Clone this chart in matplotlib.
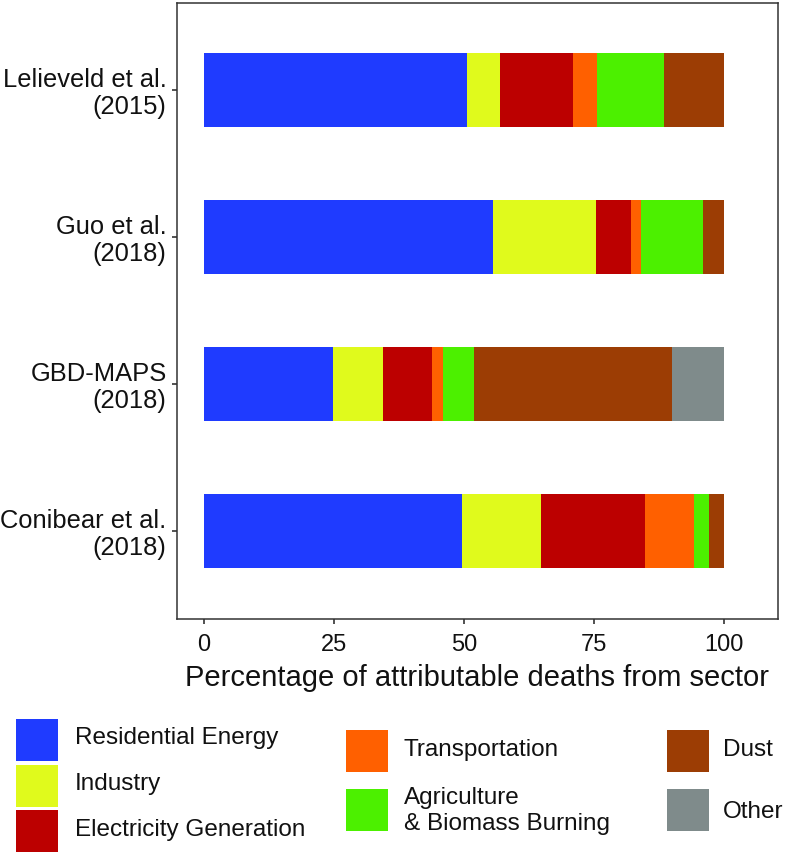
import numpy as np
import matplotlib
matplotlib.use('Agg')
import matplotlib.pyplot as plt
from matplotlib.patches import Rectangle

plt.rcParams['font.family'] = ['Liberation Sans', 'DejaVu Sans']

# studies, top to bottom
studies = ['Lelieveld et al.\n(2015)', 'Guo et al.\n(2018)',
           'GBD-MAPS\n(2018)', 'Conibear et al.\n(2018)']

sectors = ['Residential Energy', 'Industry', 'Electricity Generation',
           'Transportation', 'Agriculture\n& Biomass Burning', 'Dust', 'Other']
colors = ['#1f3bff', '#e0fa1c', '#bc0000', '#ff6000', '#4cf000', '#9c3d04', '#7f8b8b']

# percentage of attributable deaths per sector
residential = [50.5, 55.6, 24.7, 49.6]
industry = [6.5, 19.7, 9.7, 15.1]
electricity = [13.9, 6.8, 9.5, 20.0]
transport = [4.6, 2.0, 2.0, 9.5]
agriculture = [13.0, 11.8, 6.1, 2.8]
dust = [11.5, 4.1, 37.9, 3.0]
other = [0.0, 0.0, 10.1, 0.0]

values = [residential, industry, electricity, transport, agriculture, dust, other]

W, H = 792, 852
fig = plt.figure(figsize=(W / 100, H / 100), dpi=100)
ax = fig.add_axes([177 / W, 1 - 619 / H, (777.7 - 177) / W, (619 - 3.3) / H])

y = np.arange(len(studies))
left = np.zeros(len(studies))
for v, c in zip(values, colors):
    ax.barh(y, v, left=left, height=0.5, color=c, linewidth=0)
    left += np.array(v)

ax.set_xlim(-5.2, 110.3)
ax.set_ylim(3.6, -0.59)
ax.set_xticks([0, 25, 50, 75, 100])
ax.set_yticks(y)
ax.set_yticklabels(studies, fontsize=18.4, linespacing=1.15, color='#111111')
ax.tick_params(axis='x', labelsize=17, length=3.5, width=1.2, color='#333333',
               pad=7, labelcolor='#111111')
ax.tick_params(axis='y', length=3.5, width=1.2, color='#333333', pad=4)
for s in ax.spines.values():
    s.set_color('#333333')
    s.set_linewidth(1.1)
ax.set_xlabel('Percentage of attributable deaths from sector', fontsize=21,
              labelpad=6, color='#111111')

# legend drawn by hand: three columns
def swatch(x, top, c):
    fig.add_artist(Rectangle((x / W, 1 - (top + 42) / H), 42 / W, 42 / H,
                             transform=fig.transFigure, color=c, lw=0))

def label(x, yc, s):
    fig.text(x / W, 1 - yc / H, s, fontsize=17.5, va='center', ha='left',
             linespacing=1.2, color='#111111')

legend_pos = [(16, 719, 75, 738), (16, 765, 75, 784), (16, 810, 75, 830),
              (346, 730, 404, 750), (346, 789, 404, 811),
              (667, 730, 723, 750), (667, 789, 723, 812)]
for (bx, bt, tx, ty), s, c in zip(legend_pos, sectors, colors):
    swatch(bx, bt, c)
    label(tx, ty, s)

fig.savefig('out.png', dpi=100)
